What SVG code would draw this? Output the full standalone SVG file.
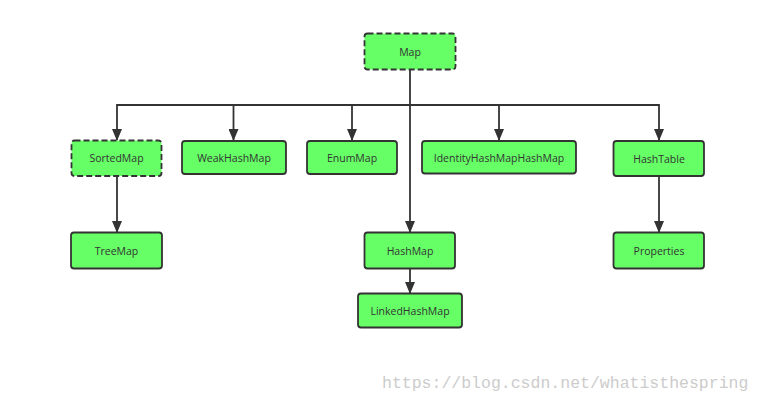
<svg xmlns="http://www.w3.org/2000/svg" width="761" height="402" viewBox="0 0 761 402">
<style>
.n rect{fill:#66ff66;stroke:#333;stroke-width:1.8}
.d rect{stroke-dasharray:6 3}
.n text{font-family:"Open Sans","DejaVu Sans",sans-serif;font-size:10.5px;fill:#333;text-anchor:middle;dominant-baseline:central}
.c path{fill:none;stroke:#333;stroke-width:1.8}
.wm{font-family:"Liberation Mono",monospace;font-size:16.5px;fill:#cccccc}
</style>
<defs>
<marker id="b" viewBox="0 0 12 10" refX="11" refY="5" markerWidth="12" markerHeight="10" markerUnits="userSpaceOnUse" orient="auto">
<path d="M0,0 L12,5 L0,10 Z" fill="#333"/>
</marker>
</defs>
<g class="c">
<path d="M410,69 V105 H117 V140" marker-end="url(#b)"/>
<path d="M233.5,105 V140" marker-end="url(#b)"/>
<path d="M352,105 V140" marker-end="url(#b)"/>
<path d="M410,105 H659 V140" marker-end="url(#b)"/>
<path d="M499,105 V140" marker-end="url(#b)"/>
<path d="M410,105 V232" marker-end="url(#b)"/>
<path d="M117,176 V232" marker-end="url(#b)"/>
<path d="M659,176 V232" marker-end="url(#b)"/>
<path d="M410,268.5 V293" marker-end="url(#b)"/>
</g>
<g id="map" class="n d"><rect x="364.5" y="33.5" width="91" height="36" rx="3"/><text x="410" y="51.5">Map</text></g>
<g id="sortedmap" class="n d"><rect x="71.5" y="140.5" width="90" height="35.5" rx="3"/><text x="116.5" y="158">SortedMap</text></g>
<g id="weakhashmap" class="n"><rect x="182" y="141" width="104" height="33" rx="3"/><text x="234" y="157.5">WeakHashMap</text></g>
<g id="enummap" class="n"><rect x="307" y="141" width="90" height="33" rx="3"/><text x="352" y="157.5">EnumMap</text></g>
<g id="identityhashmap" class="n"><rect x="422" y="141" width="154" height="32.5" rx="3"/><text x="499" y="157.5">IdentityHashMapHashMap</text></g>
<g id="hashtable" class="n"><rect x="613.5" y="141" width="90.5" height="35" rx="3"/><text x="659" y="158.5">HashTable</text></g>
<g id="treemap" class="n"><rect x="71" y="232.5" width="91" height="36" rx="3"/><text x="116.5" y="250.5">TreeMap</text></g>
<g id="hashmap" class="n"><rect x="364.5" y="232.5" width="90.5" height="36" rx="3"/><text x="410" y="250.5">HashMap</text></g>
<g id="linkedhashmap" class="n"><rect x="358" y="293.5" width="104" height="34" rx="3"/><text x="410" y="310.5">LinkedHashMap</text></g>
<g id="properties" class="n"><rect x="613.5" y="232.5" width="90.5" height="36" rx="3"/><text x="659" y="250.5">Properties</text></g>
<text class="wm" x="382" y="388">https://blog.csdn.net/whatisthespring</text>
</svg>
